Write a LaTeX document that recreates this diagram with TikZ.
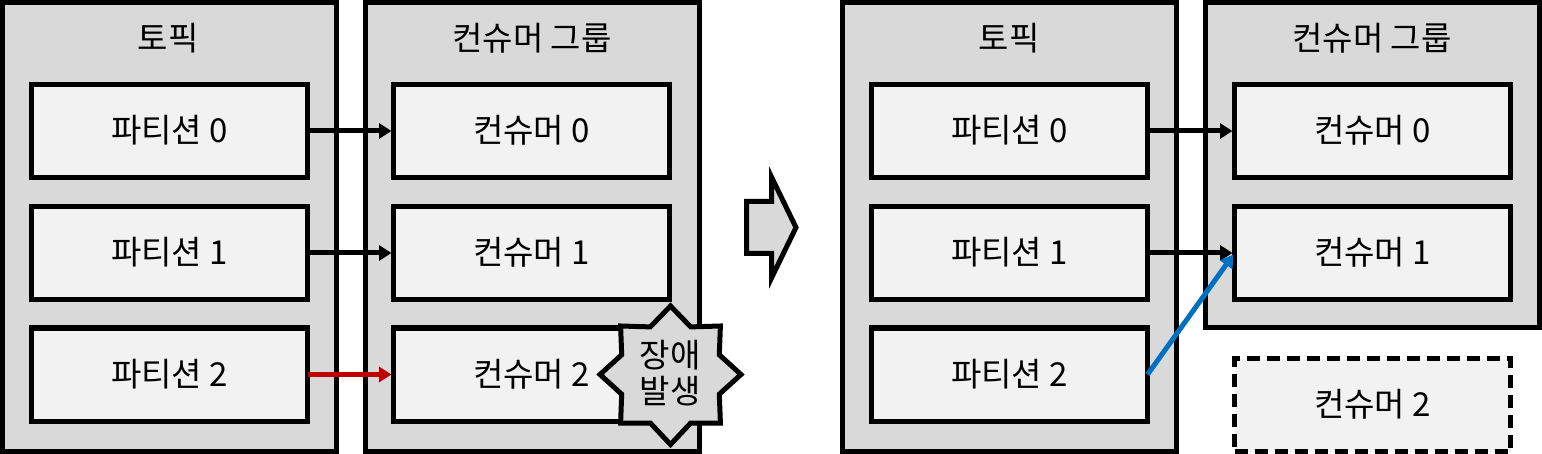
\documentclass[tikz,border=0pt]{standalone}
\usepackage{fontspec}
\setmainfont{Noto Sans CJK KR}
\usetikzlibrary{arrows.meta}
\definecolor{groupgray}{HTML}{D9D9D9}
\definecolor{boxgray}{HTML}{F2F2F2}
\definecolor{failred}{HTML}{C00000}
\definecolor{moveblue}{HTML}{0070C0}
\tikzset{
  txt/.style={font=\fontsize{33}{36}\selectfont,text=black,inner sep=0pt,align=center},
  oneline/.style={txt,text height=28pt,text depth=5pt},
  grp/.style={draw=black,fill=groupgray,line width=5pt,outer sep=0pt,inner sep=0pt,minimum width=334pt},
  itembox/.style={draw=black,fill=boxgray,line width=5pt,outer sep=0pt,inner sep=0pt,minimum width=276pt,minimum height=93pt,oneline},
  deadbox/.style={itembox,dash pattern=on 13pt off 7pt},
  conn/.style={line width=5pt,-{Triangle[length=12.5pt,width=15pt]},shorten >=2pt},
  seal/.style={draw=black,fill=groupgray,line width=5pt,miter limit=10},
}
\begin{document}
\begin{tikzpicture}[x=1pt,y=-1pt]
\useasboundingbox (0,0) rectangle (1542,454);
% left panel
\node[grp,minimum height=449pt] (gl1) at (169.5,227) {};
\node[grp,minimum height=449pt] (gl2) at (532.5,227) {};
\node[oneline] (tl1) at (168,39) {토픽};
\node[oneline] (tl2) at (532,39) {컨슈머 그룹};
\node[itembox] (pa0) at (169.5,131) {파티션 0};
\node[itembox] (pa1) at (169.5,253) {파티션 1};
\node[itembox] (pa2) at (169.5,374.5) {파티션 2};
\node[itembox] (ca0) at (531.5,131) {컨슈머 0};
\node[itembox] (ca1) at (531.5,253) {컨슈머 1};
\node[itembox] (ca2) at (531.5,374.5) {컨슈머 2};
\draw[conn] (pa0) -- (ca0);
\draw[conn] (pa1) -- (ca1);
\draw[conn,draw=failred,fill=failred] (pa2) -- (ca2);
% failure burst
\draw[seal] (670.5,306) -- (690.7,326.9) -- (720.4,326) -- (719.3,354.8) -- (741,374.5)
  -- (719.3,394.2) -- (720.4,423) -- (690.7,423) -- (670.5,444.5) -- (650.3,423)
  -- (620.6,423) -- (621.7,394.2) -- (600,374.5) -- (621.7,354.8) -- (620.6,326) -- (650.3,326.9) -- cycle;
\node[txt] (burst) at (670,373) {장애\\발생};
% block arrow
\draw[seal] (746.5,201.5) -- (771.5,201.5) -- (771.5,177) -- (796,227.5) -- (771.5,278) -- (771.5,253.5) -- (746.5,253.5) -- cycle;
% right panel
\node[grp,minimum height=449pt] (gr1) at (1009.5,227) {};
\node[grp,minimum height=325pt] (gr2) at (1372.5,165) {};
\node[oneline] (tr1) at (1009,39) {토픽};
\node[oneline] (tr2) at (1372,39) {컨슈머 그룹};
\node[itembox] (pb0) at (1009.5,131) {파티션 0};
\node[itembox] (pb1) at (1009.5,253) {파티션 1};
\node[itembox] (pb2) at (1009.5,374.5) {파티션 2};
\node[itembox] (cb0) at (1372.5,131) {컨슈머 0};
\node[itembox] (cb1) at (1372.5,253) {컨슈머 1};
\node[deadbox] (cb2) at (1372.5,405) {컨슈머 2};
\draw[conn] (pb0) -- (cb0);
\draw[conn] (pb1) -- (cb1);
\draw[conn,draw=moveblue,fill=moveblue] (pb2.east) -- (cb1.west);
\end{tikzpicture}
\end{document}
